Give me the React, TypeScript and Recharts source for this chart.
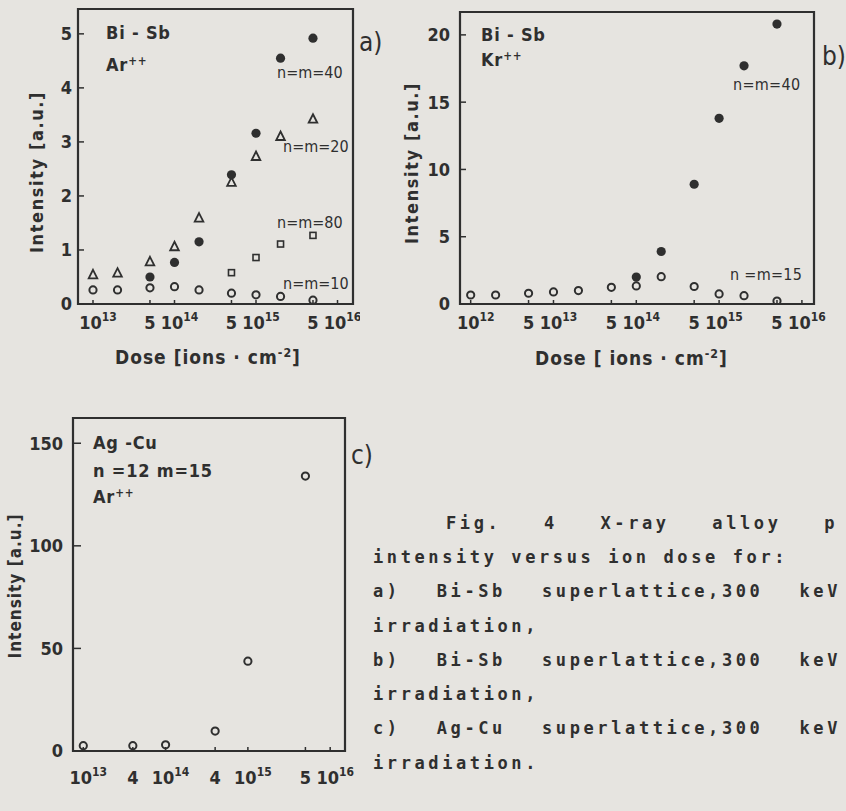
import React from 'react';
import { ScatterChart, Scatter, XAxis, YAxis, ReferenceArea } from 'recharts';

const INK = '#2f2f2f';
const PAPER = '#e6e4e0';
const FONT = "'DejaVu Sans Condensed', 'DejaVu Sans', sans-serif";
const MONO = "'DejaVu Sans Mono', 'Liberation Mono', monospace";

// a) Bi-Sb, Ar++
const doseA = [1e13, 2e13, 5e13, 1e14, 2e14, 5e14, 1e15, 2e15, 5e15];
const aN10 = [0.26, 0.26, 0.3, 0.32, 0.26, 0.2, 0.17, 0.14, 0.07];
const aN20 = [0.54, 0.57, 0.78, 1.06, 1.59, 2.25, 2.73, 3.1, 3.42];
const doseA40 = [5e13, 1e14, 2e14, 5e14, 1e15, 2e15, 5e15];
const aN40 = [0.5, 0.77, 1.15, 2.39, 3.16, 4.55, 4.92];
const doseA80 = [5e14, 1e15, 2e15, 5e15];
const aN80 = [0.58, 0.86, 1.11, 1.27];
const xTicksA = [1e13, 5e13, 1e14, 5e14, 1e15, 5e15, 1e16];
const yTicksA = [0, 1, 2, 3, 4, 5];

// b) Bi-Sb, Kr++
const doseB = [1e12, 2e12, 5e12, 1e13, 2e13, 5e13, 1e14, 2e14, 5e14, 1e15, 2e15, 5e15];
const bN15 = [0.67, 0.67, 0.8, 0.9, 1.0, 1.24, 1.34, 2.03, 1.3, 0.75, 0.62, 0.22];
const doseB40 = [1e14, 2e14, 5e14, 1e15, 2e15, 5e15];
const bN40 = [2.0, 3.9, 8.9, 13.8, 17.7, 20.8];
const xTicksB = [1e12, 5e12, 1e13, 5e13, 1e14, 5e14, 1e15, 5e15, 1e16];
const yTicksB = [0, 5, 10, 15, 20];

// c) Ag-Cu, n=12 m=15, Ar++
const doseC = [1e13, 4e13, 1e14, 4e14, 1e15, 5e15];
const cVals = [2.6, 2.6, 3, 9.7, 43.8, 134];
const xTicksC = [1e13, 4e13, 1e14, 4e14, 1e15, 5e15, 1e16];
const yTicksC = [0, 50, 100, 150];

const pts = (xs: number[], ys: number[]) => xs.map((x, i) => ({ x, y: ys[i] }));

const OpenCircle = (p: any) => (
  <circle cx={p.cx} cy={p.cy} r={3.6} fill="none" stroke={INK} strokeWidth={2} />
);
const Dot = (p: any) => <circle cx={p.cx} cy={p.cy} r={4.6} fill={INK} />;
const Tri = (p: any) => (
  <path
    d={`M${p.cx},${p.cy - 5} L${p.cx + 4.3},${p.cy + 3.5} L${p.cx - 4.3},${p.cy + 3.5} Z`}
    fill="none"
    stroke={INK}
    strokeWidth={1.8}
  />
);
const Sq = (p: any) => (
  <rect x={p.cx - 3} y={p.cy - 3} width={6} height={6} fill="none" stroke={INK} strokeWidth={1.6} />
);

const DoseTick = (p: any) => {
  const v = p.payload.value;
  const e = Math.floor(Math.log10(v) + 1e-9);
  const m = Math.round(v / Math.pow(10, e));
  const style = { fontFamily: FONT, fontWeight: 700, fill: INK };
  if (m === 1) {
    return (
      <text x={p.x + 5} y={p.y + 14} textAnchor="middle" fontSize={18} style={style}>
        10
        <tspan dy={-8} fontSize={12}>{e}</tspan>
      </text>
    );
  }
  return (
    <text x={p.x} y={p.y + 14} textAnchor="middle" fontSize={18} style={style}>
      {m}
    </text>
  );
};

const yTick = { fontSize: 18, fontWeight: 700, fill: INK, fontFamily: FONT };

const Txt = ({ x, y, size = 18, weight = 700, ls = 0.8, children }: any) => (
  <div
    style={{
      position: 'absolute',
      left: x,
      top: y,
      transform: 'translateY(-50%)',
      fontSize: size,
      fontWeight: weight,
      fontFamily: FONT,
      color: INK,
      whiteSpace: 'nowrap',
      lineHeight: 1,
      letterSpacing: ls,
    }}
  >
    {children}
  </div>
);

const VTxt = ({ x, y, size = 18, ls = 1.6, children }: any) => (
  <div
    style={{
      position: 'absolute',
      left: x,
      top: y,
      transform: 'translate(-50%, -50%) rotate(-90deg)',
      fontSize: size,
      fontWeight: 700,
      fontFamily: FONT,
      color: INK,
      whiteSpace: 'nowrap',
      lineHeight: 1,
      letterSpacing: ls,
    }}
  >
    {children}
  </div>
);

const Sup = ({ children }: any) => (
  <span style={{ fontSize: '0.65em', verticalAlign: '0.55em' }}>{children}</span>
);

const Cap = ({ x, y, w, children }: any) => (
  <div
    style={{
      position: 'absolute',
      left: x,
      top: y,
      width: w,
      transform: 'translateY(-50%)',
      fontFamily: MONO,
      fontWeight: 700,
      fontSize: 17,
      letterSpacing: 3.6,
      lineHeight: 1,
      color: INK,
      whiteSpace: w ? 'normal' : 'nowrap',
      textAlign: w ? 'justify' : 'left',
      textAlignLast: w ? 'justify' : 'auto',
    }}
  >
    {children}
  </div>
);

const Panel = ({ left, top, width, height, margin, yWidth, xDomain, yDomain, xTicks, yTicks, yTickSize, yTickMargin, xTickMargin, children }: any) => (
  <div style={{ position: 'absolute', left, top }}>
    <ScatterChart width={width} height={height} margin={margin}>
      <XAxis
        dataKey="x"
        type="number"
        scale="log"
        domain={xDomain}
        allowDataOverflow
        ticks={xTicks}
        interval={0}
        tick={<DoseTick />}
        tickSize={-4}
        tickMargin={xTickMargin}
        tickLine={{ stroke: INK, strokeWidth: 1.5 }}
        axisLine={false}
        height={60}
      />
      <YAxis
        dataKey="y"
        type="number"
        domain={yDomain}
        allowDataOverflow
        ticks={yTicks}
        interval={0}
        tick={yTick}
        tickSize={yTickSize}
        tickMargin={yTickMargin}
        tickLine={{ stroke: INK, strokeWidth: 1.5 }}
        axisLine={false}
        width={yWidth}
      />
      <ReferenceArea
        x1={xDomain[0]}
        x2={xDomain[1]}
        y1={yDomain[0]}
        y2={yDomain[1]}
        fill="none"
        stroke={INK}
        strokeWidth={2.2}
        ifOverflow="visible"
      />
      {children}
    </ScatterChart>
  </div>
);

export default function App() {
  return (
    <div
      style={{
        position: 'absolute',
        left: 0,
        top: 0,
        width: 846,
        height: 811,
        background: PAPER,
        overflow: 'hidden',
      }}
    >
      <Panel
        left={0}
        top={0}
        width={360}
        height={364}
        margin={{ top: 9, right: 7, bottom: 0, left: 0 }}
        yWidth={78}
        xDomain={[Math.pow(10, 12.816), Math.pow(10, 16.19)]}
        yDomain={[0, 5.46]}
        xTicks={xTicksA}
        yTicks={yTicksA}
        yTickSize={-6}
        yTickMargin={12}
        xTickMargin={15}
      >
        <Scatter data={pts(doseA, aN10)} shape={OpenCircle} isAnimationActive={false} />
        <Scatter data={pts(doseA, aN20)} shape={Tri} isAnimationActive={false} />
        <Scatter data={pts(doseA80, aN80)} shape={Sq} isAnimationActive={false} />
        <Scatter data={pts(doseA40, aN40)} shape={Dot} isAnimationActive={false} />
      </Panel>

      <Panel
        left={400}
        top={0}
        width={446}
        height={364}
        margin={{ top: 12, right: 32, bottom: 0, left: 0 }}
        yWidth={60}
        xDomain={[Math.pow(10, 11.871), Math.pow(10, 16.146)]}
        yDomain={[0, 21.7]}
        xTicks={xTicksB}
        yTicks={yTicksB}
        yTickSize={-6}
        yTickMargin={16}
        xTickMargin={15}
      >
        <Scatter data={pts(doseB, bN15)} shape={OpenCircle} isAnimationActive={false} />
        <Scatter data={pts(doseB40, bN40)} shape={Dot} isAnimationActive={false} />
      </Panel>

      <Panel
        left={0}
        top={400}
        width={360}
        height={411}
        margin={{ top: 18, right: 15, bottom: 0, left: 0 }}
        yWidth={73}
        xDomain={[Math.pow(10, 12.875), Math.pow(10, 16.18)]}
        yDomain={[0, 162.3]}
        xTicks={xTicksC}
        yTicks={yTicksC}
        yTickSize={-8}
        yTickMargin={18}
        xTickMargin={23}
      >
        <Scatter data={pts(doseC, cVals)} shape={OpenCircle} isAnimationActive={false} />
      </Panel>

      {/* panel a annotations */}
      <Txt x={106} y={33}>Bi - Sb</Txt>
      <Txt x={106} y={65}>Ar<Sup>++</Sup></Txt>
      <Txt x={277} y={73} size={16} weight={400} ls={0}>n=m=40</Txt>
      <Txt x={283} y={147} size={16} weight={400} ls={0}>n=m=20</Txt>
      <Txt x={277} y={223} size={16} weight={400} ls={0}>n=m=80</Txt>
      <Txt x={283} y={284} size={16} weight={400} ls={0}>n=m=10</Txt>
      <Txt x={359} y={42} size={26} weight={400} ls={0}>a)</Txt>
      <VTxt x={37} y={172}>Intensity [a.u.]</VTxt>
      <Txt x={115} y={357} size={19} ls={1}>Dose [ions · cm<Sup>-2</Sup>]</Txt>

      {/* panel b annotations */}
      <Txt x={481} y={35}>Bi - Sb</Txt>
      <Txt x={481} y={60}>Kr<Sup>++</Sup></Txt>
      <Txt x={733} y={85} size={16} weight={400} ls={0.3}>n=m=40</Txt>
      <Txt x={730} y={275} size={16} weight={400} ls={0.3}>n =m=15</Txt>
      <Txt x={822} y={56} size={26} weight={400} ls={0}>b)</Txt>
      <VTxt x={412} y={163}>Intensity [a.u.]</VTxt>
      <Txt x={535} y={358} size={19} ls={1}>Dose [ ions · cm<Sup>-2</Sup>]</Txt>

      {/* panel c annotations */}
      <Txt x={93} y={443}>Ag -Cu</Txt>
      <Txt x={93} y={471}>n =12 m=15</Txt>
      <Txt x={93} y={497}>Ar<Sup>++</Sup></Txt>
      <Txt x={351} y={455} size={26} weight={400} ls={0}>c)</Txt>
      <VTxt x={15} y={586} size={17} ls={1}>Intensity [a.u.]</VTxt>

      {/* caption */}
      <Cap x={446} y={523} w={392}>Fig. 4 X-ray alloy p</Cap>
      <Cap x={373} y={557}>intensity versus ion dose for:</Cap>
      <Cap x={373} y={591} w={468}>a) Bi-Sb superlattice,300 keV</Cap>
      <Cap x={373} y={626}>irradiation,</Cap>
      <Cap x={373} y={660} w={468}>b) Bi-Sb superlattice,300 keV</Cap>
      <Cap x={373} y={694}>irradiation,</Cap>
      <Cap x={373} y={728} w={468}>c) Ag-Cu superlattice,300 keV</Cap>
      <Cap x={373} y={763}>irradiation.</Cap>
    </div>
  );
}
